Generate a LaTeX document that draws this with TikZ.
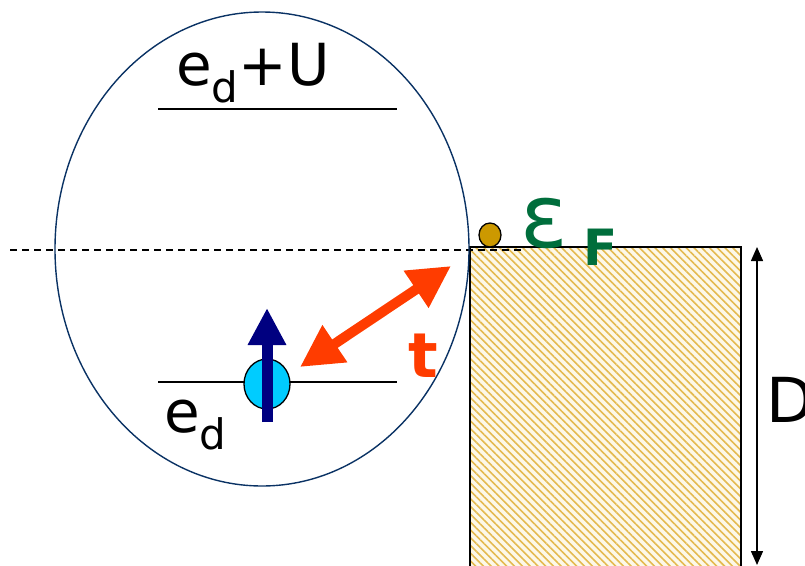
\documentclass[tikz,border=0pt]{standalone}
\usepackage{fontspec}
\setmainfont{DejaVu Sans}
\usetikzlibrary{arrows.meta,patterns.meta}
\definecolor{ringblue}{RGB}{10,50,100}
\definecolor{gold}{RGB}{228,186,80}
\definecolor{cream}{RGB}{253,248,232}
\definecolor{spinblue}{RGB}{0,0,128}
\definecolor{dotcyan}{RGB}{0,204,255}
\definecolor{hopred}{RGB}{255,60,0}
\definecolor{fermigreen}{RGB}{0,110,60}
\definecolor{dotgold}{RGB}{204,153,0}
\tikzset{
  lvl/.style={line width=1.5pt,black},
  big/.style={font=\fontsize{58}{58}\selectfont,inner sep=0pt},
}
\newcommand{\subd}{{\fontsize{42}{42}\selectfont\raisebox{-17pt}{d}}}
\begin{document}
\begin{tikzpicture}[x=1pt,y=-1pt]
\useasboundingbox (0,0) rectangle (805,565);
% metal block
\fill[cream] (470,247) rectangle (741,570);
\fill[pattern={Lines[angle=-45,distance=5.5pt,line width=1.6pt]},pattern color=gold] (470,247) rectangle (741,570);
\draw[line width=1.5pt] (470,570) -- (470,247) -- (741,247) -- (741,570);
% Fermi level
\coordinate (fl) at (10,250);
\coordinate (fr) at (524,250);
\draw[dashed,line width=1.5pt,dash pattern=on 7pt off 5pt] (fl) -- (fr);
% dot ellipse
\draw[ringblue,line width=1.4pt] (262,249) ellipse [x radius=207,y radius=237];
% levels
\coordinate (ul) at (158,109); \coordinate (ur) at (397,109);
\draw[lvl] (ul) -- (ur);
\coordinate (dl) at (158,382); \coordinate (dr) at (397,382);
\draw[lvl] (dl) -- (dr);
\node[big,anchor=base west] (eu) at (176,85) {e\subd+U};
\node[big,anchor=base west] (ed) at (164,432) {e\subd};
% electron
\draw[fill=dotcyan,line width=1.3pt] (267,384) ellipse [x radius=23,y radius=25];
\coordinate (sb) at (267,422); \coordinate (st) at (267,308);
\draw[spinblue,line width=11pt,-{Triangle[length=37pt,width=36pt]}] (sb) -- (st);
% hopping
\coordinate (ha) at (300,367); \coordinate (hb) at (451,266);
\draw[hopred,line width=10pt,{Triangle[length=42pt,width=42pt]}-{Triangle[length=42pt,width=42pt]}] (ha) -- (hb);
\node[font=\fontsize{62}{62}\selectfont\bfseries,text=hopred,anchor=base west,inner sep=0pt] (t) at (408,377) {t};
% Fermi electron
\draw[fill=dotgold,line width=1.3pt] (490,235) ellipse [x radius=11,y radius=12];
\node[font=\fontsize{88}{88}\selectfont,text=fermigreen,anchor=base west,inner sep=0pt] (eps) at (520,247) {ε};
\node[font=\fontsize{50}{50}\selectfont\bfseries,text=fermigreen,anchor=base west,inner sep=0pt] (F) at (583,265) {F};
% D arrow
\coordinate (da) at (757,247); \coordinate (db) at (757,565);
\draw[line width=1.5pt,{Triangle[length=14pt,width=12pt]}-{Triangle[length=14pt,width=12pt]}] (da) -- (db);
\node[font=\fontsize{62}{62}\selectfont,anchor=base west,inner sep=0pt] (D) at (766,422) {D};
\end{tikzpicture}
\end{document}
